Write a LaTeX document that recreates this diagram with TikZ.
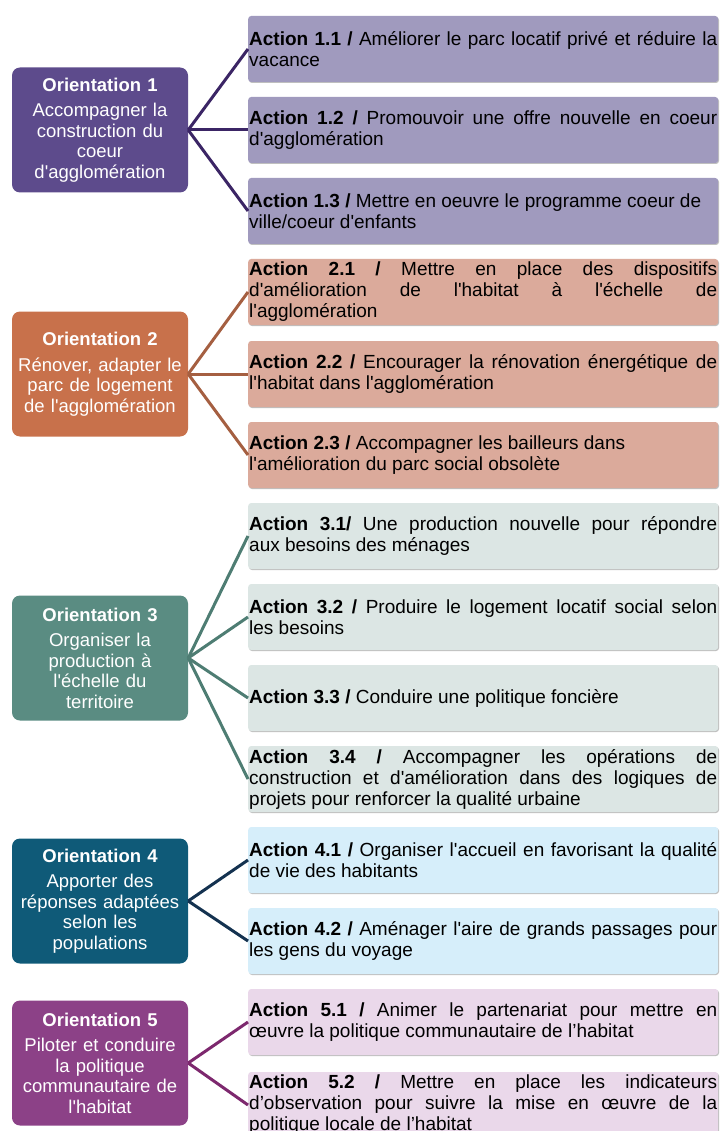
\documentclass[tikz,border=0pt]{standalone}
\usepackage{fontspec}
\setmainfont{Liberation Sans}[Ligatures=TeXOff]
\usetikzlibrary{shadows}
\definecolor{o1}{HTML}{5D4B8C}
\definecolor{o2}{HTML}{C8714B}
\definecolor{o3}{HTML}{5A8C82}
\definecolor{o4}{HTML}{0F5A78}
\definecolor{o5}{HTML}{8C4187}
\definecolor{a1}{HTML}{A09ABE}
\definecolor{a2}{HTML}{DBAA9B}
\definecolor{a3}{HTML}{DCE6E4}
\definecolor{a4}{HTML}{D6EEFA}
\definecolor{a5}{HTML}{EAD8EA}
\definecolor{l1}{HTML}{3B2565}
\definecolor{l2}{HTML}{A55F41}
\definecolor{l3}{HTML}{4E7D73}
\definecolor{l4}{HTML}{143250}
\definecolor{l5}{HTML}{7D286E}
\begin{document}
\begin{tikzpicture}[x=1pt,y=-1pt,
 orient/.style={rounded corners=8pt, minimum width=176pt, minimum height=125pt,
   text width=170pt, align=center, text=white, inner sep=0pt,
   font=\fontsize{18.5}{20.5}\selectfont},
 act/.style={rounded corners=3pt, minimum width=470pt, minimum height=66pt,
   text width=468pt, align=justify, inner xsep=1pt, inner ysep=0pt, anchor=west,
   font=\fontsize{19}{21}\selectfont,
   drop shadow={shadow xshift=0.8pt, shadow yshift=-1pt, opacity=0.25, fill=black}},
 conn/.style={line width=3pt}
]
\useasboundingbox (0,0) rectangle (721,1131);

% Orientations
\node[orient, fill=o1] (o1) at (100,130) {\textbf{Orientation 1}\\[5pt]Accompagner la\\construction du\\coeur\\d'agglomération};
\node[orient, fill=o2] (o2) at (100,374) {\textbf{Orientation 2}\\[5pt]Rénover, adapter le\\parc de logement\\de l'agglomération};
\node[orient, fill=o3] (o3) at (100,658) {\textbf{Orientation 3}\\[5pt]Organiser la\\production à\\l'échelle du\\territoire};
\node[orient, fill=o4] (o4) at (100,901) {\textbf{Orientation 4}\\[5pt]Apporter des\\réponses adaptées\\selon les\\populations};
\node[orient, fill=o5] (o5) at (100,1063) {\textbf{Orientation 5}\\[5pt]Piloter et conduire\\la politique\\communautaire de\\l'habitat};

% Actions
\node[act, fill=a1] (a11) at (248,49) {\textbf{Action 1.1 /} Améliorer le parc locatif privé et réduire la\linebreak vacance};
\node[act, fill=a1] (a12) at (248,130) {\textbf{Action 1.2 /} Promouvoir une offre nouvelle en coeur\linebreak d'agglomération};
\node[act, fill=a1] (a13) at (248,211) {\textbf{Action 1.3 /} Mettre en oeuvre le programme coeur de\\ville/coeur d'enfants};
\node[act, fill=a2] (a21) at (248,292) {\textbf{Action 2.1 /} Mettre en place des dispositifs\linebreak d'amélioration de l'habitat à l'échelle de\linebreak l'agglomération};
\node[act, fill=a2] (a22) at (248,374) {\textbf{Action 2.2 /} Encourager la rénovation énergétique de\linebreak l'habitat dans l'agglomération};
\node[act, fill=a2] (a23) at (248,455) {\textbf{Action 2.3 /} Accompagner les bailleurs dans\\l'amélioration du parc social obsolète};
\node[act, fill=a3] (a31) at (248,536) {\textbf{Action 3.1/} Une production nouvelle pour répondre\linebreak aux besoins des ménages};
\node[act, fill=a3] (a32) at (248,617) {\textbf{Action 3.2 /} Produire le logement locatif social selon\linebreak les besoins};
\node[act, fill=a3] (a33) at (248,698) {\textbf{Action 3.3 /} Conduire une politique foncière};
\node[act, fill=a3] (a34) at (248,779) {\textbf{Action 3.4 /} Accompagner les opérations de\linebreak construction et d'amélioration dans des logiques de\linebreak projets pour renforcer la qualité urbaine};
\node[act, fill=a4] (a41) at (248,860) {\textbf{Action 4.1 /} Organiser l'accueil en favorisant la qualité\linebreak de vie des habitants};
\node[act, fill=a4] (a42) at (248,941) {\textbf{Action 4.2 /} Aménager l'aire de grands passages pour\linebreak les gens du voyage};
\node[act, fill=a5] (a51) at (248,1022) {\textbf{Action 5.1 /} Animer le partenariat pour mettre en\linebreak œuvre la politique communautaire de l’habitat};
\node[act, fill=a5] (a52) at (248,1105) {\textbf{Action 5.2 /} Mettre en place les indicateurs\linebreak d’observation pour suivre la mise en œuvre de la\linebreak politique locale de l’habitat};

% Connectors
\foreach \t in {a11,a12,a13} \draw[conn, l1] (o1.east) -- (\t.west);
\foreach \t in {a21,a22,a23} \draw[conn, l2] (o2.east) -- (\t.west);
\foreach \t in {a31,a32,a33,a34} \draw[conn, l3] (o3.east) -- (\t.west);
\foreach \t in {a41,a42} \draw[conn, l4] (o4.east) -- (\t.west);
\foreach \t in {a51,a52} \draw[conn, l5] (o5.east) -- (\t.west);
\end{tikzpicture}
\end{document}
